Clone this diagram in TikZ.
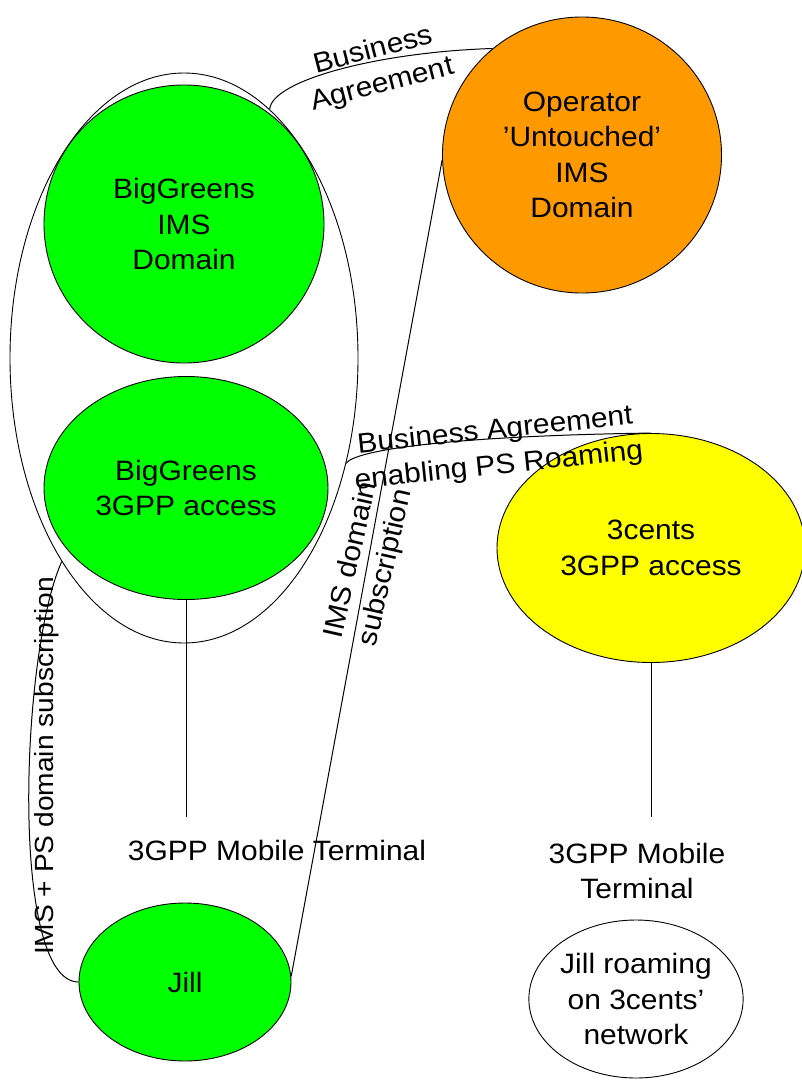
\documentclass[tikz,border=0pt]{standalone}
\usepackage{fontspec}
\setmainfont[FakeStretch=1.07]{Liberation Sans}
\usetikzlibrary{shapes.geometric}
\definecolor{bggreen}{HTML}{00FF00}
\definecolor{oporange}{HTML}{FF9900}
\definecolor{scyellow}{HTML}{FFFF00}
\tikzset{
  txt/.style={font={\fontsize{28}{35.5}\selectfont}, align=center, inner sep=0pt},
  blob/.style={ellipse, draw, line width=0.9pt, inner sep=0pt, txt},
  conn/.style={draw, line width=1pt},
}
\begin{document}
\begin{tikzpicture}[x=1pt, y=-1pt]
\useasboundingbox (0,0) rectangle (802,1082);
% outer BigGreens ellipse
\node[blob, minimum width=348pt, minimum height=570pt] (outer) at (184,358) {};
% nodes
\node[blob, fill=bggreen, minimum width=280pt, minimum height=278pt] (bgims) at (184,224) {BigGreens\\IMS\\Domain};
\node[blob, fill=bggreen, minimum width=284pt, minimum height=223pt] (bg3) at (186,488) {BigGreens\\3GPP access};
\node[blob, fill=oporange, minimum width=279pt, minimum height=276pt] (oper) at (582,155) {Operator\\'Untouched'\\IMS\\Domain};
\node[blob, fill=scyellow, minimum width=308pt, minimum height=229pt] (sc) at (651,548) {3cents\\3GPP access};
\node[blob, fill=bggreen, minimum width=212pt, minimum height=158pt] (jill) at (185,982) {Jill};
\node[blob, minimum width=211pt, minimum height=158pt] (roam) at (636,999) {Jill roaming\\on 3cents'\\network};
% terminal labels
\node[txt] (mt1) at (277,850) {3GPP Mobile Terminal};
\node[txt] (mt2) at (637,871) {3GPP Mobile\\Terminal};
\coordinate (t1) at (186,817);
\coordinate (t2) at (651,817);
% connectors
\draw[conn] (bg3.south) -- (t1);
\draw[conn] (sc.south) -- (t2);
\draw[conn] (jill.3) -- (oper.182);
\draw[conn] (outer.71.5) .. controls (272,80) and (380,52) .. (oper.130.4);
\draw[conn] (outer.-33.6) .. controls (355,450) and (450,436) .. (sc.north);
\draw[conn] (jill.west) .. controls (10,982) and (20,655) .. (outer.239.7);
% connector labels
\node[txt, rotate=14.5] (lba) at (378,68) {Business\\Agreement};
\node[txt, rotate=6] (lbr) at (497,449) {Business Agreement\\enabling PS Roaming};
\node[txt, rotate=77.3] (lims) at (369,564) {IMS domain\\subscription};
\node[txt, rotate=90, font={\fontsize{26.3}{30}\selectfont}] (lps) at (47,766) {IMS + PS domain subscription};
\end{tikzpicture}
\end{document}
